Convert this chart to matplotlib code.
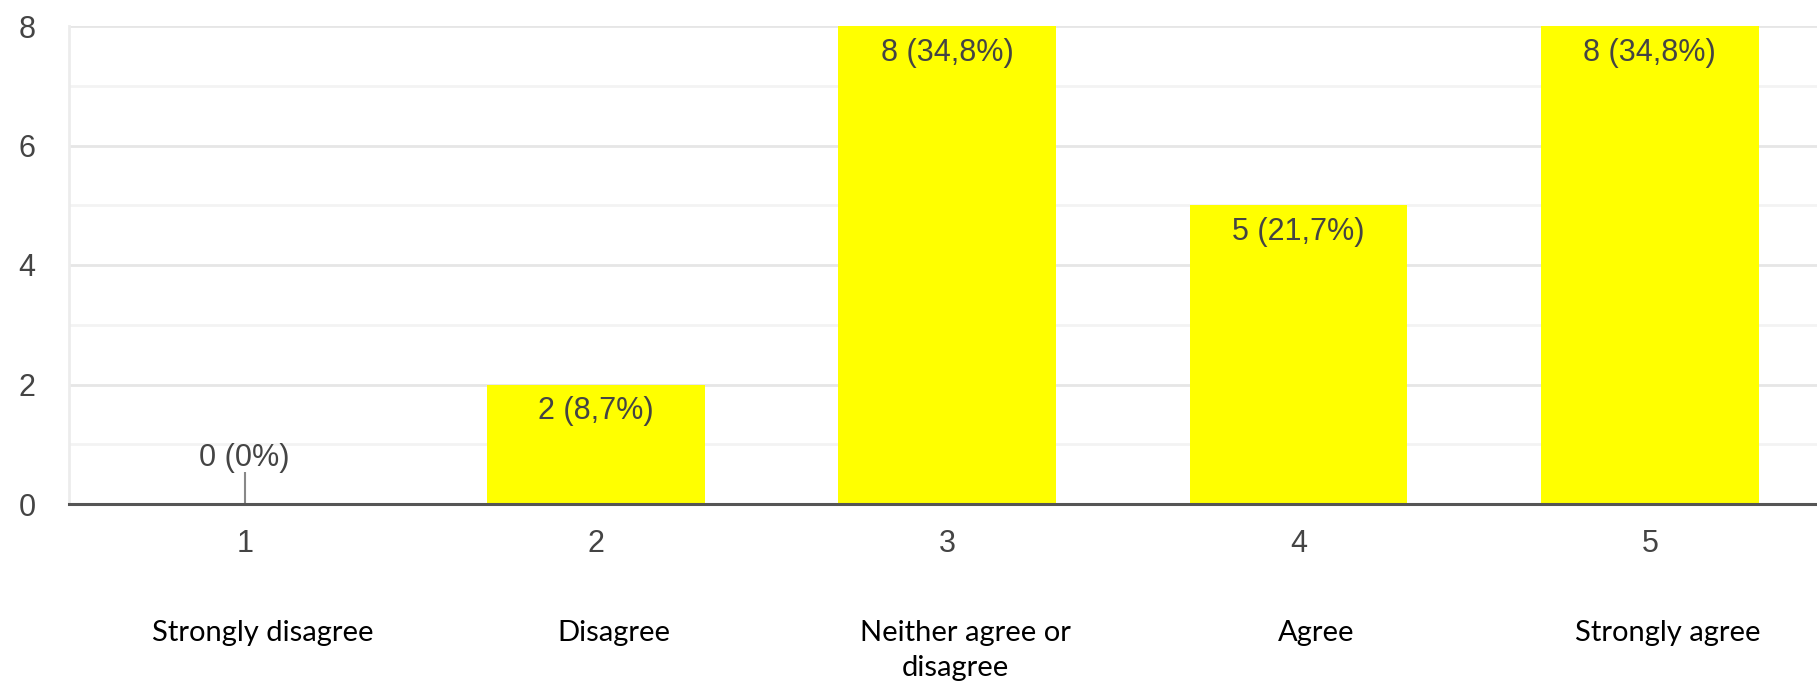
import numpy as np
import matplotlib
matplotlib.use("Agg")
import matplotlib.pyplot as plt
from matplotlib.ticker import MultipleLocator

# data
positions = [1, 2, 3, 4, 5]
counts = [0, 2, 8, 5, 8]
value_labels = ["0 (0%)", "2 (8,7%)", "8 (34,8%)", "5 (21,7%)", "8 (34,8%)"]
categories = ["Strongly disagree", "Disagree", "Neither agree or\ndisagree",
              "Agree", "Strongly agree"]

BAR_COLOR = "#ffff00"
TEXT_GREY = "#444444"

fig = plt.figure(figsize=(18.17, 6.86), dpi=100)
ax = fig.add_axes((69 / 1817, 1 - 504 / 686, 1 - 69 / 1817, 478 / 686))

ax.bar(positions, counts, width=0.62, color=BAR_COLOR, zorder=3)
ax.set_xlim(0.5, 5.476)
ax.set_ylim(0, 8)

# grid
ax.yaxis.set_major_locator(MultipleLocator(2))
ax.yaxis.set_minor_locator(MultipleLocator(1))
ax.grid(axis="y", which="major", color="#e6e6e6", linewidth=2, zorder=0)
ax.grid(axis="y", which="minor", color="#f3f3f3", linewidth=2, zorder=0)

for side in ["top", "right"]:
    ax.spines[side].set_visible(False)
ax.spines["left"].set_color("#ececec")
ax.spines["left"].set_linewidth(2)
ax.spines["bottom"].set_color("#555555")
ax.spines["bottom"].set_linewidth(2.2)
ax.spines["bottom"].set_zorder(4)

ax.tick_params(axis="both", which="both", length=0)
ax.tick_params(axis="y", pad=24, labelsize=22, labelcolor=TEXT_GREY)
ax.tick_params(axis="x", pad=18, labelsize=22, labelcolor=TEXT_GREY)
ax.set_xticks(positions)
ax.set_xticklabels([str(p) for p in positions])
ax.set_yticks([0, 2, 4, 6, 8])
for lab in ax.get_xticklabels() + ax.get_yticklabels():
    lab.set_family("Liberation Sans")

# value labels
for x, c, lab in zip(positions, counts, value_labels):
    if c == 0:
        ax.vlines(x, 0, 0.53, color="#888888", linewidth=1.5, zorder=4)
        ax.text(x, 0.77, lab, ha="center", va="center", fontsize=22,
                color=TEXT_GREY, family="Liberation Sans", zorder=5)
    else:
        ax.text(x, c - 0.45, lab, ha="center", va="center", fontsize=22,
                color=TEXT_GREY, family="Liberation Sans", zorder=5)

# category names under the axis, one text per line
# (they sit a little right of the bar centres in the original)
for x, cat in zip(positions, categories):
    for i, line in enumerate(cat.split("\n")):
        ax.annotate(line, xy=(x, -0.27), xycoords=ax.get_xaxis_transform(),
                    xytext=(13 - 7 * i, -25 * i), textcoords="offset points",
                    ha="center", va="center", fontsize=21, color="black",
                    family="Lato", annotation_clip=False)

fig.savefig("out.png", dpi=100)
